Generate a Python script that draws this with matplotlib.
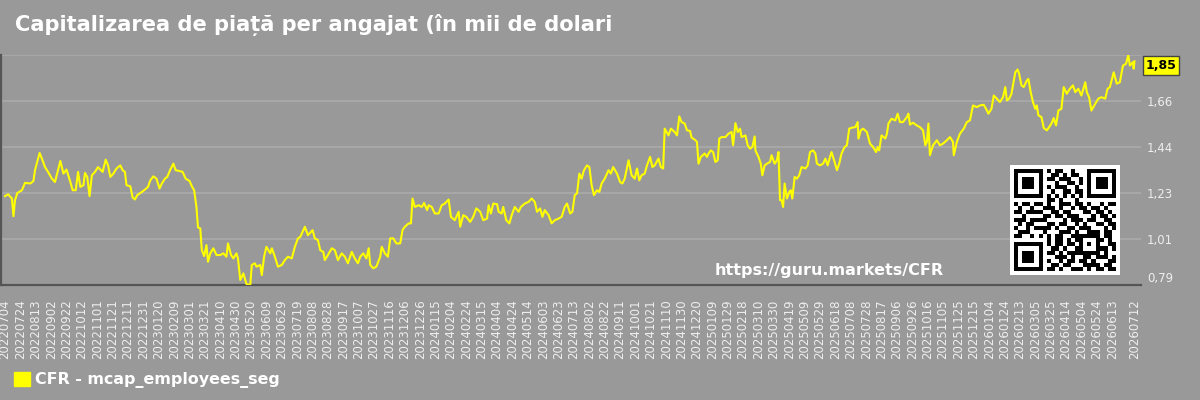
"""Market cap per employee for CFR, styled like the guru.markets share cards."""

import datetime as dt

import matplotlib

matplotlib.use("Agg")
import matplotlib.dates as mdates
import matplotlib.pyplot as plt
import matplotlib.transforms as mtransforms
import numpy as np
from matplotlib.patches import Patch

BG = "#999999"
GRID = "#a7a7a7"
SPINE = "#555555"
TICK = "#eeeeee"
LINE = "#ffff00"

TITLE = "Capitalizarea de piață per angajat (în mii de dolari"
SERIES = "CFR - mcap_employees_seg"
WATERMARK = "https://guru.markets/CFR"

START = dt.date(2022, 7, 4)
END = dt.date(2026, 7, 12)
TICK_STEP_DAYS = 20

# days since START
DAYS = [
    0, 4, 9, 11, 13, 16, 22, 26, 33, 37,
    39, 45, 48, 52, 56, 61, 65, 69, 72, 76,
    80, 85, 88, 92, 95, 98, 102, 104, 107, 110,
    113, 117, 121, 124, 127, 131, 134, 137, 141, 145,
    150, 153, 156, 158, 163, 166, 169, 172, 178, 182,
    186, 189, 193, 197, 201, 204, 208, 211, 215, 219,
    222, 227, 231, 235, 240, 243, 246, 249, 251, 254,
    256, 259, 262, 264, 267, 271, 275, 280, 284, 288,
    290, 294, 297, 301, 303, 306, 310, 314, 319, 321,
    325, 327, 332, 334, 337, 340, 345, 347, 351, 355,
    360, 364, 368, 373, 377, 381, 384, 388, 390, 394,
    400, 403, 407, 410, 414, 416, 420, 425, 429, 433,
    438, 442, 446, 451, 455, 459, 462, 466, 470, 473,
    475, 479, 483, 488, 490, 494, 498, 501, 505, 509,
    514, 517, 520, 525, 528, 530, 533, 538, 542, 545,
    549, 551, 555, 559, 564, 568, 572, 577, 580, 585,
    590, 592, 596, 600, 605, 609, 613, 618, 622, 627,
    629, 632, 635, 640, 642, 646, 648, 652, 656, 659,
    663, 668, 671, 676, 681, 685, 689, 692, 696, 699,
    702, 707, 711, 715, 720, 724, 728, 731, 735, 738,
    741, 744, 747, 750, 753, 757, 760, 763, 766, 770,
    773, 776, 780, 785, 788, 791, 796, 800, 803, 806,
    811, 815, 819, 822, 825, 828, 832, 835, 839, 842,
    845, 850, 853, 856, 858, 863, 866, 871, 874, 876,
    877, 880, 884, 887, 891, 893, 897, 900, 902, 905,
    910, 913, 915, 918, 921, 924, 927, 929, 932, 937,
    941, 945, 947, 950, 953, 956, 958, 963, 966, 969,
    972, 975, 976, 980, 983, 985, 988, 991, 995, 997,
    1001, 1004, 1006, 1008, 1010, 1012, 1014, 1017, 1020, 1022,
    1024, 1027, 1030, 1033, 1036, 1041, 1044, 1047, 1051, 1054,
    1056, 1060, 1064, 1067, 1070, 1073, 1075, 1079, 1082, 1085,
    1088, 1092, 1095, 1098, 1102, 1106, 1109, 1110, 1113, 1116,
    1121, 1125, 1129, 1133, 1135, 1137, 1140, 1145, 1147, 1149,
    1153, 1158, 1161, 1164, 1168, 1173, 1175, 1177, 1181, 1186,
    1190, 1194, 1197, 1199, 1201, 1203, 1207, 1212, 1216, 1220,
    1225, 1229, 1233, 1234, 1238, 1242, 1247, 1251, 1255, 1259,
    1264, 1268, 1273, 1276, 1279, 1283, 1286, 1290, 1294, 1298,
    1301, 1303, 1306, 1309, 1312, 1314, 1317, 1319, 1322, 1325,
    1329, 1331, 1334, 1337, 1340, 1342, 1344, 1348, 1351, 1355,
    1358, 1361, 1364, 1367, 1370, 1374, 1377, 1381, 1385, 1389,
    1392, 1396, 1400, 1405, 1407, 1410, 1413, 1418, 1422, 1426,
    1431, 1434, 1437, 1442, 1446, 1450, 1454, 1458, 1461, 1463,
    1467, 1468, 1469,
]

# thousand USD per employee
VALUES = [
    1.211, 1.220, 1.200, 1.116, 1.192, 1.226, 1.239, 1.274, 1.271, 1.283,
    1.334, 1.416, 1.389, 1.349, 1.326, 1.294, 1.278, 1.334, 1.378, 1.318,
    1.337, 1.278, 1.239, 1.239, 1.326, 1.255, 1.263, 1.321, 1.302, 1.211,
    1.310, 1.326, 1.349, 1.337, 1.326, 1.384, 1.357, 1.302, 1.318, 1.342,
    1.357, 1.334, 1.326, 1.263, 1.258, 1.205, 1.195, 1.216, 1.231, 1.242,
    1.255, 1.286, 1.305, 1.294, 1.247, 1.271, 1.294, 1.302, 1.337, 1.365,
    1.334, 1.330, 1.326, 1.294, 1.283, 1.258, 1.239, 1.160, 1.063, 1.058,
    0.955, 0.927, 0.979, 0.900, 0.940, 0.964, 0.932, 0.932, 0.940, 0.924,
    0.987, 0.932, 0.916, 0.940, 0.916, 0.814, 0.845, 0.795, 0.790, 0.885,
    0.893, 0.877, 0.885, 0.837, 0.924, 0.971, 0.940, 0.964, 0.924, 0.877,
    0.885, 0.908, 0.924, 0.916, 0.971, 1.011, 1.018, 1.050, 1.066, 1.026,
    1.050, 1.011, 1.003, 0.955, 0.947, 0.908, 0.932, 0.964, 0.955, 0.908,
    0.940, 0.924, 0.893, 0.947, 0.916, 0.893, 0.924, 0.940, 0.916, 0.964,
    0.885, 0.869, 0.877, 0.924, 0.971, 0.940, 0.924, 1.011, 1.011, 0.987,
    0.987, 1.050, 1.066, 1.082, 1.082, 1.200, 1.160, 1.168, 1.160, 1.179,
    1.145, 1.168, 1.160, 1.129, 1.129, 1.168, 1.176, 1.195, 1.113, 1.097,
    1.137, 1.066, 1.121, 1.113, 1.089, 1.113, 1.153, 1.137, 1.097, 1.105,
    1.168, 1.129, 1.176, 1.173, 1.137, 1.129, 1.160, 1.097, 1.082, 1.121,
    1.160, 1.137, 1.160, 1.176, 1.184, 1.200, 1.184, 1.137, 1.153, 1.113,
    1.145, 1.121, 1.082, 1.097, 1.105, 1.113, 1.160, 1.176, 1.129, 1.137,
    1.216, 1.224, 1.318, 1.294, 1.334, 1.357, 1.349, 1.263, 1.216, 1.239,
    1.231, 1.271, 1.294, 1.334, 1.318, 1.349, 1.318, 1.278, 1.271, 1.294,
    1.381, 1.310, 1.294, 1.342, 1.286, 1.310, 1.318, 1.357, 1.397, 1.349,
    1.357, 1.389, 1.349, 1.342, 1.531, 1.499, 1.531, 1.515, 1.499, 1.562,
    1.589, 1.562, 1.555, 1.523, 1.520, 1.488, 1.479, 1.468, 1.365, 1.397,
    1.413, 1.397, 1.413, 1.428, 1.420, 1.373, 1.381, 1.484, 1.491, 1.491,
    1.507, 1.515, 1.452, 1.557, 1.515, 1.531, 1.491, 1.499, 1.452, 1.436,
    1.444, 1.494, 1.428, 1.397, 1.365, 1.310, 1.357, 1.365, 1.373, 1.405,
    1.365, 1.381, 1.420, 1.192, 1.192, 1.160, 1.271, 1.200, 1.231, 1.239,
    1.200, 1.302, 1.294, 1.310, 1.349, 1.342, 1.357, 1.420, 1.428, 1.413,
    1.365, 1.357, 1.365, 1.389, 1.357, 1.397, 1.420, 1.373, 1.334, 1.365,
    1.413, 1.444, 1.452, 1.531, 1.536, 1.538, 1.562, 1.484, 1.523, 1.531,
    1.515, 1.460, 1.444, 1.420, 1.444, 1.428, 1.499, 1.484, 1.507, 1.555,
    1.578, 1.570, 1.602, 1.562, 1.562, 1.586, 1.602, 1.550, 1.559, 1.546,
    1.538, 1.523, 1.452, 1.468, 1.555, 1.405, 1.452, 1.476, 1.452, 1.460,
    1.476, 1.491, 1.468, 1.405, 1.468, 1.507, 1.531, 1.562, 1.570, 1.641,
    1.633, 1.641, 1.644, 1.625, 1.602, 1.625, 1.688, 1.673, 1.657, 1.680,
    1.728, 1.665, 1.673, 1.696, 1.759, 1.798, 1.811, 1.791, 1.736, 1.728,
    1.759, 1.767, 1.704, 1.657, 1.625, 1.641, 1.594, 1.586, 1.534, 1.523,
    1.538, 1.555, 1.581, 1.546, 1.617, 1.625, 1.728, 1.696, 1.720, 1.736,
    1.704, 1.720, 1.688, 1.751, 1.704, 1.680, 1.617, 1.649, 1.673, 1.680,
    1.673, 1.720, 1.728, 1.798, 1.744, 1.751, 1.830, 1.838, 1.880, 1.830,
    1.846, 1.815, 1.850,
]

# rough copy of the share QR code (1 = black module)
QR_ROWS = [
    "1111111010110010001111111",
    "1000001001101011001000001",
    "1011101011011100101011101",
    "1011101000100110101011101",
    "1011101010111001001011101",
    "1000001001001101101000001",
    "1111111010101010101111111",
    "0000000011010001000000000",
    "1011011010011101101001011",
    "0100100111010010110110100",
    "1101111001101100011011010",
    "0010000110110111000101101",
    "1110111100001011101100110",
    "0101100011011001010011011",
    "1001011110100110111000101",
    "0111000100011101001110110",
    "1100101010110011111110110",
    "0000000010110101100011010",
    "1111111010110110101010011",
    "1000001001101001100011101",
    "1011101011010111111110100",
    "1011101000111010011011101",
    "1011101010010110110100011",
    "1000001001101100011110110",
    "1111111011010011101011011",
]


def comma(v):
    return f"{v:.2f}".replace(".", ",")


def main():
    dates = [START + dt.timedelta(days=d) for d in DAYS]

    fig = plt.figure(figsize=(12, 4), dpi=100)
    fig.set_facecolor(BG)
    ax = fig.add_axes([1 / 1200, 115 / 400, 1140 / 1200, 230 / 400])
    ax.set_facecolor(BG)

    ax.plot(dates, VALUES, color=LINE, linewidth=1.5, zorder=3)

    # y range is the data range, split into five bands
    lo, hi = min(VALUES), max(VALUES)
    ax.set_ylim(lo, hi)
    yt = np.linspace(lo, hi, 6)
    ax.set_yticks(yt)
    ax.set_yticklabels([comma(v) for v in yt[:-1]] + [""])
    ax.yaxis.tick_right()
    ax.tick_params(axis="y", length=0, pad=4.3, colors=TICK, labelsize=8.5)
    ax.get_yticklabels()[0].set_va("bottom")

    # regular 20-day ticks, stopping short of the last date which gets its own
    span = (END - START).days
    ticks = [START + dt.timedelta(days=k)
             for k in range(0, span - TICK_STEP_DAYS, TICK_STEP_DAYS)] + [END]
    ax.set_xticks(ticks)
    ax.set_xticklabels([t.strftime("%Y%m%d") for t in ticks], rotation=90)
    ax.tick_params(axis="x", length=0, pad=10.5, colors=TICK, labelsize=8.5)
    ax.set_xlim(mdates.date2num(START) - 5.2, mdates.date2num(END) + 8.5)

    ax.grid(True, axis="y", color=GRID, linewidth=1.5)
    ax.set_axisbelow(True)
    for side in ("top", "right"):
        ax.spines[side].set_visible(False)
    for side in ("left", "bottom"):
        ax.spines[side].set_color(SPINE)
        ax.spines[side].set_linewidth(1.6)

    # last value tag on the right axis
    trans = mtransforms.blended_transform_factory(ax.transAxes, ax.transData)
    ax.annotate(comma(VALUES[-1]), xy=(1, VALUES[-1]), xycoords=trans,
                xytext=(3.5, -3), textcoords="offset points",
                ha="left", va="center", fontsize=9, fontweight="bold",
                color="black", annotation_clip=False,
                bbox=dict(boxstyle="square,pad=0.22", fc=LINE, ec="#444444",
                          lw=1))

    ax.text(0.827, 0.065, WATERMARK, transform=ax.transAxes, ha="right",
            va="center", fontsize=11.5, fontweight="bold", color="white",
            zorder=4)

    fig.text(15 / 1200, 1 - 25 / 400, TITLE, ha="left", va="center",
             fontsize=15.1, fontweight="bold", color="white")

    fig.legend(handles=[Patch(facecolor=LINE, edgecolor=LINE)],
               labels=[SERIES], loc="center left",
               bbox_to_anchor=(14 / 1200, 1 - 380 / 400), frameon=False,
               handlelength=1.0, handleheight=1.0, handletextpad=0.35,
               borderpad=0, borderaxespad=0,
               prop={"weight": "bold", "size": 11.4}, labelcolor="white")

    qr = np.array([[int(c) for c in row.ljust(25, "0")[:25]] for row in QR_ROWS])
    qax = fig.add_axes([1010 / 1200, 125 / 400, 110 / 1200, 110 / 400])
    qax.imshow(np.pad(qr, 1), cmap="binary", vmin=0, vmax=1,
               interpolation="nearest", aspect="auto")
    qax.axis("off")

    fig.savefig("out.png", dpi=100, facecolor=BG)
    plt.close(fig)


if __name__ == "__main__":
    main()
